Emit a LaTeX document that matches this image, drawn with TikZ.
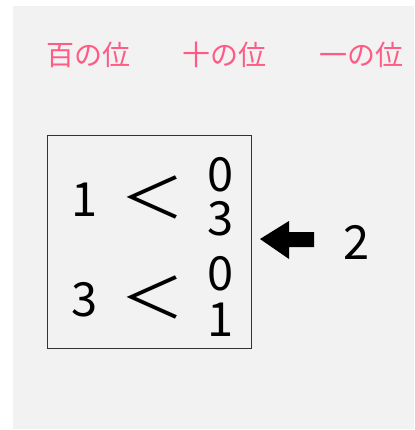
\documentclass[tikz,border=0pt]{standalone}
\usepackage{fontspec}
\newfontfamily\jpfont{Noto Sans CJK JP}
\definecolor{bggray}{HTML}{F2F2F2}
\definecolor{pinklab}{HTML}{FF5B85}
\begin{document}
\begin{tikzpicture}[x=1pt,y=-1pt,
  lab/.style={inner sep=0pt,text=pinklab,font=\jpfont\fontsize{28}{28}\selectfont},
  dig/.style={inner sep=0pt,font=\jpfont\fontsize{47}{47}\selectfont},
  lt/.style={inner sep=0pt,xscale=1.15,font=\jpfont\fontsize{56}{56}\selectfont}]
\useasboundingbox (0,0) rectangle (414,430);
\fill[bggray] (13,6) rectangle (414,429);
\node[lab] (h) at (88,55) {百の位};
\node[lab] (t) at (224,55) {十の位};
\node[lab] (o) at (361,55) {一の位};
\draw[line width=0.8pt,black!80] (47.5,135.5) rectangle (251.5,348);
\node[dig] (a1) at (85,200) {1};
\node[lt] (l1) at (153,197) {＜};
\node[dig] (a2) at (221,175) {0};
\node[dig] (a3) at (221,219) {3};
\node[dig] (b1) at (85,300) {3};
\node[lt] (l2) at (153,297) {＜};
\node[dig] (b2) at (221,274) {0};
\node[dig] (b3) at (221,320) {1};
\fill[black] (260,239) -- (289,221) -- (289,232) -- (314,232) -- (314,247) -- (289,247) -- (289,259) -- cycle;
\node[dig] (two) at (357,242) {2};
\end{tikzpicture}
\end{document}
